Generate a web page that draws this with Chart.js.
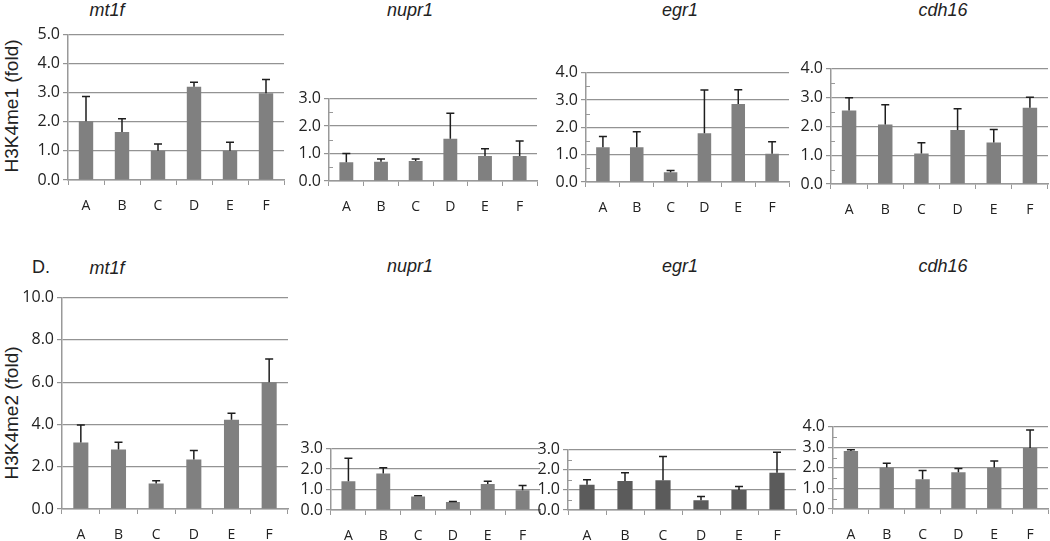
<!DOCTYPE html>
<html>
<head>
<meta charset="utf-8">
<script src="https://cdn.jsdelivr.net/npm/chart.js@4/dist/chart.umd.min.js"></script>
<style>
  body { margin: 0; width: 1050px; height: 541px; background: #fff; position: relative; overflow: hidden;
         font-family: "Liberation Sans", Arial, sans-serif; color: #222; }
  .panel { position: absolute; }
  .label { position: absolute; transform: translate(-50%, -50%); white-space: nowrap; }
  .gene { font-style: italic; font-size: 18px; }
  .ytitle { position: absolute; font-size: 19px; white-space: nowrap; transform: translate(-50%, -50%) rotate(-90deg); }
</style>
</head>
<body>
<div class="label" style="left:41px;top:267px;font-size:18px">D.</div>
<div class="ytitle" style="left:12px;top:106px">H3K4me1 (fold)</div>
<div class="ytitle" style="left:12px;top:413px">H3K4me2 (fold)</div>

<script>
// Data
const categories = ['A', 'B', 'C', 'D', 'E', 'F'];

// H3K4me1 (top row): mean fold and upper error (SD)
const me1Mt1f = [2.02, 1.65, 1.01, 3.21, 1.01, 2.98];
const me1Mt1fErr = [0.85, 0.46, 0.23, 0.15, 0.29, 0.48];
const me1Nupr1 = [0.68, 0.70, 0.73, 1.54, 0.91, 0.91];
const me1Nupr1Err = [0.32, 0.10, 0.07, 0.93, 0.26, 0.55];
const me1Egr1 = [1.27, 1.27, 0.36, 1.78, 2.85, 1.03];
const me1Egr1Err = [0.39, 0.57, 0.06, 1.58, 0.52, 0.44];
const me1Cdh16 = [2.55, 2.06, 1.06, 1.87, 1.44, 2.64];
const me1Cdh16Err = [0.44, 0.69, 0.37, 0.74, 0.45, 0.37];

// H3K4me2 (bottom row)
const me2Mt1f = [3.15, 2.82, 1.21, 2.34, 4.22, 6.00];
const me2Mt1fErr = [0.82, 0.34, 0.13, 0.43, 0.31, 1.10];
const me2Nupr1 = [1.41, 1.78, 0.66, 0.39, 1.27, 0.97];
const me2Nupr1Err = [1.12, 0.29, 0.04, 0.03, 0.14, 0.23];
const me2Egr1 = [1.26, 1.44, 1.48, 0.49, 0.99, 1.85];
const me2Egr1Err = [0.24, 0.41, 1.18, 0.18, 0.18, 1.02];
const me2Cdh16 = [2.82, 2.02, 1.45, 1.78, 2.02, 2.96];
const me2Cdh16Err = [0.06, 0.20, 0.42, 0.19, 0.31, 0.88];

const barGray = '#808080', barDark = '#5b5b5b';
const gridGray = '#939393', axisGray = '#999';

// Panel layout: chart area [left, top, right, bottom] in page pixels
const panels = [
  { title: 'mt1f',  tx: 107, ty: 10,  values: me1Mt1f,  errs: me1Mt1fErr,  max: 5,  step: 1, area: [68, 32, 284, 180],   color: barGray, minor: false },
  { title: 'nupr1', tx: 410, ty: 10,  values: me1Nupr1, errs: me1Nupr1Err, max: 3,  step: 1, area: [329, 96, 537, 181],  color: barGray, minor: true },
  { title: 'egr1',  tx: 680, ty: 10,  values: me1Egr1,  errs: me1Egr1Err,  max: 4,  step: 1, area: [586, 70, 789, 182],  color: barGray, minor: true },
  { title: 'cdh16', tx: 943, ty: 10,  values: me1Cdh16, errs: me1Cdh16Err, max: 4,  step: 1, area: [831, 66, 1048, 184], color: barGray, minor: true },
  { title: 'mt1f',  tx: 107, ty: 268, values: me2Mt1f,  errs: me2Mt1fErr,  max: 10, step: 2, area: [62, 295, 288, 509],  color: barGray, minor: false },
  { title: 'nupr1', tx: 410, ty: 266, values: me2Nupr1, errs: me2Nupr1Err, max: 3,  step: 1, area: [331, 446, 540, 510], color: barGray, minor: false },
  { title: 'egr1',  tx: 680, ty: 266, values: me2Egr1,  errs: me2Egr1Err,  max: 3,  step: 1, area: [568, 447, 796, 510], color: barDark, minor: true },
  { title: 'cdh16', tx: 943, ty: 266, values: me2Cdh16, errs: me2Cdh16Err, max: 4,  step: 1, area: [833, 424, 1048, 509], color: barGray, minor: true }
];

// Error bars (upper only) + small minor ticks inside the y axis
const errorBars = {
  id: 'errorBars',
  afterDatasetsDraw(chart, args, opts) {
    const { ctx, chartArea } = chart;
    const y = chart.scales.y;
    const ds = chart.data.datasets[0];
    ctx.save();
    if (opts.minor) {
      ctx.strokeStyle = axisGray; ctx.lineWidth = 1;
      for (let v = opts.step / 2; v < opts.max; v += opts.step) {
        const py = Math.round(y.getPixelForValue(v)) + 0.5;
        ctx.beginPath(); ctx.moveTo(chartArea.left, py); ctx.lineTo(chartArea.left + 4, py); ctx.stroke();
      }
    }
    ctx.strokeStyle = '#1e1e1e'; ctx.lineWidth = 1.5;
    chart.getDatasetMeta(0).data.forEach((bar, i) => {
      const top = y.getPixelForValue(ds.data[i] + opts.errs[i]);
      ctx.beginPath();
      ctx.moveTo(bar.x, bar.y); ctx.lineTo(bar.x, top);
      ctx.moveTo(bar.x - 4, top); ctx.lineTo(bar.x + 4, top);
      ctx.stroke();
    });
    ctx.restore();
  }
};

function makePanel(p) {
  const [L, T, R, B] = p.area;
  const yW = 60, padT = 10, padR = 4, xH = 36;
  const w = R - L + yW + padR, h = B - T + padT + xH;
  const cv = document.createElement('canvas');
  cv.className = 'panel';
  cv.width = w; cv.height = h;
  cv.style.left = (L - yW) + 'px'; cv.style.top = (T - padT) + 'px';
  cv.style.width = w + 'px'; cv.style.height = h + 'px';
  document.body.appendChild(cv);

  const t = document.createElement('div');
  t.className = 'label gene';
  t.style.left = p.tx + 'px'; t.style.top = p.ty + 'px';
  t.textContent = p.title;
  document.body.appendChild(t);

  new Chart(cv, {
    type: 'bar',
    data: {
      labels: categories,
      datasets: [{ data: p.values, backgroundColor: p.color, barPercentage: 0.4, categoryPercentage: 1 }]
    },
    options: {
      responsive: false,
      animation: false,
      layout: { padding: { top: padT, right: padR, left: 0, bottom: 0 } },
      plugins: {
        legend: { display: false },
        tooltip: { enabled: false },
        errorBars: { errs: p.errs, minor: p.minor, max: p.max, step: p.step }
      },
      scales: {
        x: {
          grid: { drawOnChartArea: false, offset: true, tickLength: 5, color: axisGray },
          border: { color: axisGray, width: 1.5 },
          ticks: { color: '#222', font: { family: 'Open Sans', size: 14 }, padding: 13, autoSkip: false, maxRotation: 0 },
          afterFit: s => { s.height = xH; }
        },
        y: {
          min: 0, max: p.max,
          grid: { color: gridGray, lineWidth: 1.2, tickLength: 5 },
          border: { color: axisGray, width: 1.5 },
          ticks: { stepSize: p.step, autoSkip: false, callback: v => v.toFixed(1), color: '#222',
                   font: { family: 'Open Sans', size: 16 }, padding: 3 },
          afterFit: s => { s.width = yW; }
        }
      }
    },
    plugins: [errorBars]
  });
}

panels.forEach(makePanel);
</script>
</body>
</html>
